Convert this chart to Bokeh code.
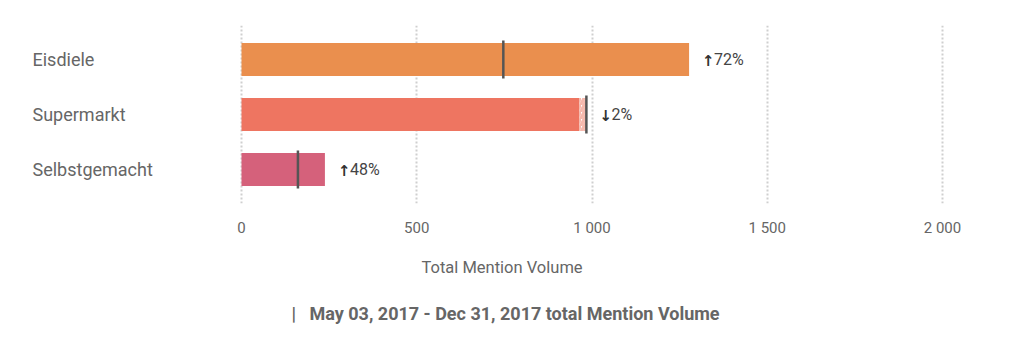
from bokeh.plotting import figure
from bokeh.models import ColumnDataSource, Range1d, FixedTicker, Title
from bokeh.core.properties import value
from bokeh.embed import file_html
from bokeh.resources import INLINE

# ---- data ----
categories = ["Eisdiele", "Supermarkt", "Selbstgemacht"]
current_volume = [1277, 963, 238]
previous_volume = [747, 984, 161]
change_pct = ["72%", "2%", "48%"]
change_dir = ["up", "down", "up"]
bar_colors = ["#EA8F4E", "#EE7561", "#D5617B"]
tick_values = [0, 500, 1000, 1500, 2000]
tick_labels = ["0", "500", "1 000", "1 500", "2 000"]
axis_title = "Total Mention Volume"
legend_text = "May 03, 2017 - Dec 31, 2017 total Mention Volume"

FONT = "Roboto"

# layout constants (pixels)
W, H = 1024, 350
PLOT_LEFT, PLOT_RIGHT = 241, 942          # pixel of 0 and of 2000
PX_PER_UNIT = (PLOT_RIGHT - PLOT_LEFT) / (tick_values[-1] - tick_values[0])
ROW_PX = 55
FRAME_TOP, FRAME_BOTTOM = 25, 203
FIRST_ROW_CENTER = 59

arrows = ["\u2191" if d == "up" else "\u2193" for d in change_dir]
label_x = [max(c, p) for c, p in zip(current_volume, previous_volume)]
row = list(range(len(categories)))

src = ColumnDataSource(dict(cat=categories, row=row, cur=current_volume, prev=previous_volume,
                            color=bar_colors, pct=change_pct, arrow=arrows, lx=label_x))

dec = [(r, cu, pr) for r, cu, pr in zip(row, current_volume, previous_volume) if pr > cu]
hatch_src = ColumnDataSource(dict(row=[d[0] for d in dec], left=[d[1] for d in dec],
                                  right=[d[2] for d in dec]))

x_start = -PLOT_LEFT / PX_PER_UNIT
x_end = (W - PLOT_LEFT) / PX_PER_UNIT
y_top = -(FIRST_ROW_CENTER - FRAME_TOP) / ROW_PX
y_bottom = (FRAME_BOTTOM - FIRST_ROW_CENTER) / ROW_PX

p = figure(width=W, height=H, output_backend="svg", toolbar_location=None,
           x_range=Range1d(x_start, x_end), y_range=Range1d(y_bottom, y_top),
           min_border_left=0, min_border_right=0, min_border_top=FRAME_TOP,
           min_border_bottom=H - FRAME_BOTTOM)

p.outline_line_color = None
p.background_fill_color = "white"
p.border_fill_color = "white"

# bars
p.hbar(y="row", left=0, right="cur", height=0.6, fill_color="color", line_color=None, source=src)
# hatched decline extension
p.hbar(y="row", left="left", right="right", height=0.6, fill_alpha=0, line_color=None,
       hatch_pattern="/", hatch_color="#F6B8AC", hatch_scale=7, hatch_weight=3,
       source=hatch_src)
# previous-period markers
p.rect(x="prev", y="row", width=2.5, width_units="screen", height=0.69,
       fill_color="#555555", line_color=None, source=src)

# change labels
p.text(x="lx", y="row", text="arrow", x_offset=13, y_offset=1, source=src,
       text_font=value("DejaVu Sans"), text_font_size="15px", text_font_style="bold",
       text_color="#333333", text_baseline="middle", text_align="left")
p.text(x="lx", y="row", text="pct", x_offset=25, source=src,
       text_font=value(FONT), text_font_size="16px",
       text_color="#444444", text_baseline="middle", text_align="left")

# category labels
p.text(x=0, y="row", text="cat", x_offset=32 - PLOT_LEFT, source=src,
       text_font=value(FONT), text_font_size="18px", text_color="#666666",
       text_baseline="middle", text_align="left")

# axes
p.yaxis.visible = False
p.xaxis.ticker = FixedTicker(ticks=tick_values)
p.xaxis.major_label_overrides = {v: l for v, l in zip(tick_values, tick_labels)}
p.xaxis.axis_line_color = None
p.xaxis.major_tick_line_color = None
p.xaxis.minor_tick_line_color = None
p.xaxis.major_label_standoff = 9
p.xaxis.major_label_text_font = FONT
p.xaxis.major_label_text_font_size = "15px"
p.xaxis.major_label_text_color = "#666666"

p.ygrid.grid_line_color = None
p.xgrid.grid_line_color = "#CFCFCF"
p.xgrid.grid_line_dash = "2 2"
p.xgrid.grid_line_width = 2

p.add_layout(Title(text=axis_title, align="left", offset=421, standoff=32,
                   text_font=FONT, text_font_size="16.5px", text_font_style="normal",
                   text_color="#666666"), "below")
p.add_layout(Title(text="|\u00a0\u00a0\u00a0" + legend_text, align="left", offset=291,
                   standoff=16,
                   text_font=FONT, text_font_size="18px", text_font_style="bold",
                   text_color="#666666"), "below")

open("out.html", "w").write(file_html(p, INLINE))
